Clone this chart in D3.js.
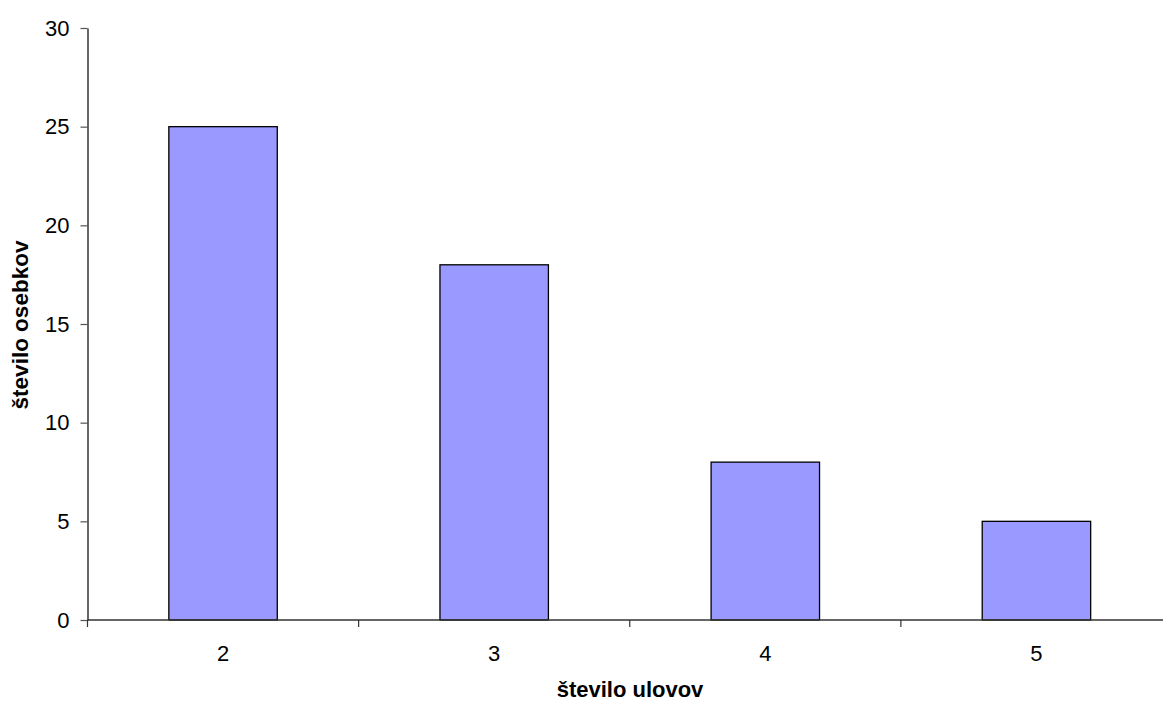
<!DOCTYPE html>
<html>
<head>
<meta charset="utf-8">
<script src="https://cdn.jsdelivr.net/npm/d3@7"></script>
<style>
  html, body { margin: 0; padding: 0; background: #fff; }
  svg { display: block; font-family: Arial, "Liberation Sans", sans-serif; }
</style>
</head>
<body>
<svg id="chart" width="1163" height="702"></svg>
<script>
// Number of captures per individual vs. number of individuals
const categories = ["2", "3", "4", "5"];
const counts = [25, 18, 8, 5];
const yTicks = [0, 5, 10, 15, 20, 25, 30];
const xTitle = "število ulovov";
const yTitle = "število osebkov";

const svg = d3.select("#chart");
const plotLeft = 87.5, plotTop = 28, plotBottom = 620, plotRight = 1172;

const x = d3.scaleBand()
  .domain(categories)
  .range([plotLeft, plotRight])
  .paddingInner(0.6)
  .paddingOuter(0.3);

const y = d3.scaleLinear().domain([0, 30]).range([plotBottom, plotTop]);

// Bars
svg.append("g")
  .selectAll("rect")
  .data(categories.map((c, i) => ({ c, v: counts[i] })))
  .join("rect")
  .attr("x", d => x(d.c))
  .attr("y", d => y(d.v))
  .attr("width", x.bandwidth())
  .attr("height", d => y(0) - y(d.v))
  .attr("fill", "#9999FF")
  .attr("stroke", "#000")
  .attr("stroke-width", 1.3);

// Y axis
const yAxis = svg.append("g")
  .attr("transform", `translate(${plotLeft},0)`)
  .call(d3.axisLeft(y).tickValues(yTicks).tickSize(7).tickPadding(11).tickSizeOuter(0));
yAxis.select(".domain").attr("stroke", "#000").attr("stroke-width", 1.2);
yAxis.selectAll(".tick line").attr("stroke", "#555").attr("stroke-width", 1.2);
yAxis.selectAll("text")
  .attr("font-size", 22).attr("fill", "#000")
  .attr("font-family", "Arial, 'Liberation Sans', sans-serif");

// X axis: boundary ticks between categories
const boundaries = d3.range(categories.length + 1).map(i => plotLeft + i * x.step());
const xg = svg.append("g");
xg.append("line")
  .attr("x1", plotLeft).attr("x2", plotRight)
  .attr("y1", plotBottom).attr("y2", plotBottom)
  .attr("stroke", "#333").attr("stroke-width", 1.3);
xg.selectAll("line.tk")
  .data(boundaries)
  .join("line")
  .attr("class", "tk")
  .attr("x1", d => d).attr("x2", d => d)
  .attr("y1", plotBottom).attr("y2", plotBottom + 7)
  .attr("stroke", "#333").attr("stroke-width", 1.2);
xg.selectAll("text")
  .data(categories)
  .join("text")
  .attr("x", d => x(d) + x.bandwidth() / 2)
  .attr("y", 661)
  .attr("text-anchor", "middle")
  .attr("font-size", 22)
  .attr("fill", "#000")
  .text(d => d);

// Axis titles
svg.append("text")
  .attr("x", 630).attr("y", 697)
  .attr("text-anchor", "middle")
  .attr("font-size", 22).attr("font-weight", "bold")
  .text(xTitle);

svg.append("text")
  .attr("transform", "translate(28,325) rotate(-90)")
  .attr("text-anchor", "middle")
  .attr("font-size", 22.5).attr("font-weight", "bold")
  .text(yTitle);
</script>
</body>
</html>
